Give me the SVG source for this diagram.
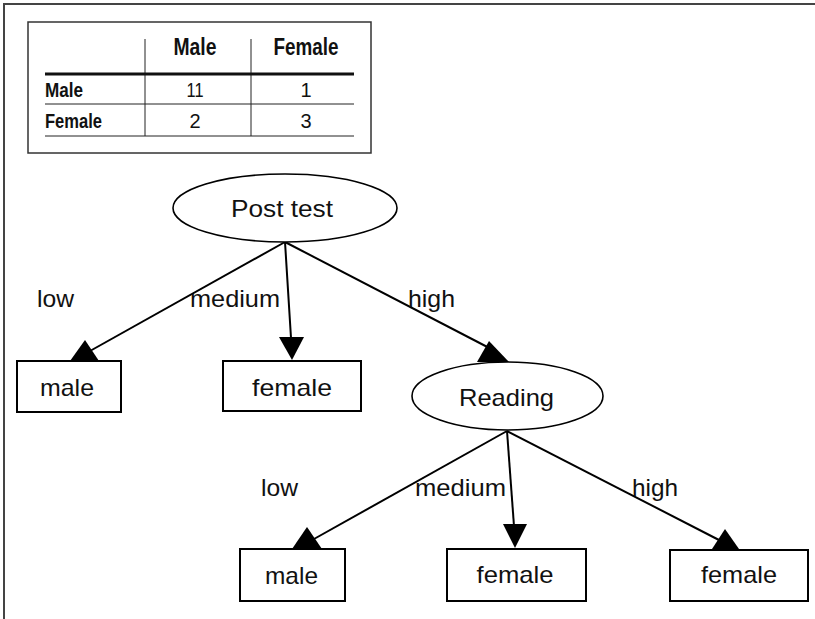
<svg xmlns="http://www.w3.org/2000/svg" width="815" height="619" viewBox="0 0 815 619">
  <style>
    .frame { fill: none; stroke: #444; stroke-width: 2; }
    .tbox { fill: #fff; stroke: #333; stroke-width: 1.5; }
    .rule { stroke: #222; stroke-width: 1; }
    .rule-thick { stroke: #111; stroke-width: 3; }
    .th { font-family: "Liberation Sans Narrow", "Liberation Sans", Arial, sans-serif; font-weight: bold; font-size: 23px; fill: #111; }
    .td { font-family: "Liberation Sans Narrow", "Liberation Sans", Arial, sans-serif; font-size: 20px; fill: #111; }
    .tdb { font-family: "Liberation Sans Narrow", "Liberation Sans", Arial, sans-serif; font-weight: bold; font-size: 20px; fill: #111; }
    .node { fill: #fff; stroke: #000; stroke-width: 2; }
    .oval { fill: #fff; stroke: #000; stroke-width: 1.6; }
    .label { font-family: "Liberation Sans", Arial, sans-serif; font-size: 24px; fill: #111; }
    .edge { stroke: #000; stroke-width: 2; fill: none; }
    .head { fill: #000; }
  </style>

  <!-- outer frame (top and left only) -->
  <path class="frame" d="M4,619 V4 H815"/>

  <!-- contingency table -->
  <g id="table">
    <rect class="tbox" x="28" y="22" width="343" height="131"/>
    <line class="rule" x1="145" y1="39" x2="145" y2="136"/>
    <line class="rule" x1="251" y1="39" x2="251" y2="136"/>
    <line class="rule-thick" x1="45" y1="74" x2="354" y2="74"/>
    <line class="rule" x1="45" y1="104" x2="354" y2="104"/>
    <line class="rule" x1="45" y1="136" x2="354" y2="136"/>
    <text class="th" x="195" y="55" text-anchor="middle" textLength="43" lengthAdjust="spacingAndGlyphs">Male</text>
    <text class="th" x="306" y="55" text-anchor="middle" textLength="65" lengthAdjust="spacingAndGlyphs">Female</text>
    <text class="tdb" x="45" y="97" textLength="38" lengthAdjust="spacingAndGlyphs">Male</text>
    <text class="tdb" x="45" y="128" textLength="57" lengthAdjust="spacingAndGlyphs">Female</text>
    <text class="td" x="195" y="97" text-anchor="middle" textLength="17" lengthAdjust="spacingAndGlyphs">11</text>
    <text class="td" x="306" y="97" text-anchor="middle">1</text>
    <text class="td" x="195" y="128" text-anchor="middle">2</text>
    <text class="td" x="306" y="128" text-anchor="middle">3</text>
  </g>

  <!-- connectors and branch labels -->
  <g id="edges">
    <line class="edge" x1="285" y1="242" x2="90" y2="351"/>
    <polygon class="head" points="85,340 70,361 99,361"/>
    <line class="edge" x1="285" y1="242" x2="291" y2="338"/>
    <polygon class="head" points="279,337 304,337 292,360"/>
    <line class="edge" x1="285" y1="242" x2="497" y2="352"/>
    <polygon class="head" points="489,341 477,362 509,362"/>
    <text class="label" x="37" y="307" textLength="37" lengthAdjust="spacingAndGlyphs">low</text>
    <text class="label" x="190" y="307" textLength="90" lengthAdjust="spacingAndGlyphs">medium</text>
    <text class="label" x="408" y="307" textLength="47" lengthAdjust="spacingAndGlyphs">high</text>

    <line class="edge" x1="507" y1="431" x2="314" y2="539"/>
    <polygon class="head" points="307,527 292,549 322,549"/>
    <line class="edge" x1="507" y1="431" x2="514" y2="526"/>
    <polygon class="head" points="503,524 527,524 515,548"/>
    <line class="edge" x1="507" y1="431" x2="719" y2="540"/>
    <polygon class="head" points="725,529 712,549 739,549"/>
    <text class="label" x="261" y="496" textLength="37" lengthAdjust="spacingAndGlyphs">low</text>
    <text class="label" x="415" y="496" textLength="91" lengthAdjust="spacingAndGlyphs">medium</text>
    <text class="label" x="632" y="496" textLength="46" lengthAdjust="spacingAndGlyphs">high</text>
  </g>

  <!-- decision nodes -->
  <g id="post-test">
    <ellipse class="oval" cx="285" cy="208" rx="112" ry="34"/>
    <text class="label" x="282" y="217" text-anchor="middle" textLength="102" lengthAdjust="spacingAndGlyphs">Post test</text>
  </g>
  <g id="reading">
    <ellipse class="oval" cx="507.5" cy="396" rx="95.5" ry="34"/>
    <text class="label" x="506.5" y="406" text-anchor="middle" textLength="95" lengthAdjust="spacingAndGlyphs">Reading</text>
  </g>

  <!-- leaf nodes -->
  <g id="leaf-male-1">
    <rect class="node" x="17" y="361" width="104" height="51"/>
    <text class="label" x="67" y="396" text-anchor="middle" textLength="54" lengthAdjust="spacingAndGlyphs">male</text>
  </g>
  <g id="leaf-female-1">
    <rect class="node" x="223" y="361" width="138" height="50"/>
    <text class="label" x="292" y="396" text-anchor="middle" textLength="80" lengthAdjust="spacingAndGlyphs">female</text>
  </g>
  <g id="leaf-male-2">
    <rect class="node" x="240" y="549" width="105" height="52"/>
    <text class="label" x="291.5" y="584" text-anchor="middle" textLength="53" lengthAdjust="spacingAndGlyphs">male</text>
  </g>
  <g id="leaf-female-2">
    <rect class="node" x="447" y="549" width="139" height="52"/>
    <text class="label" x="515" y="583" text-anchor="middle" textLength="77" lengthAdjust="spacingAndGlyphs">female</text>
  </g>
  <g id="leaf-female-3">
    <rect class="node" x="670" y="550" width="138" height="51"/>
    <text class="label" x="739" y="583" text-anchor="middle" textLength="76" lengthAdjust="spacingAndGlyphs">female</text>
  </g>
</svg>
